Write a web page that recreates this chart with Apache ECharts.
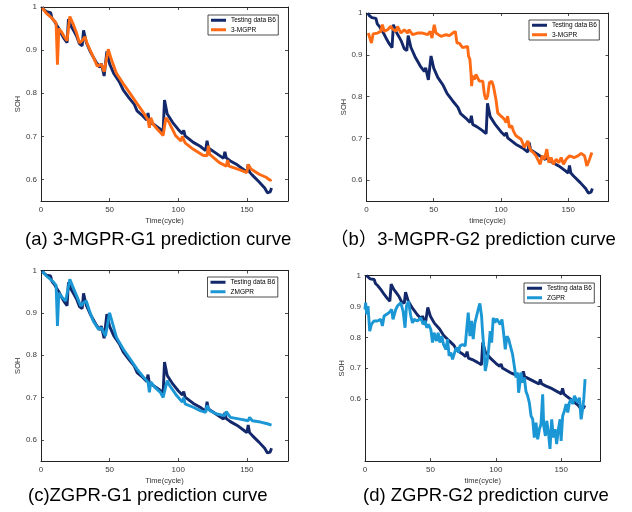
<!DOCTYPE html>
<html>
<head>
<meta charset="utf-8">
<script src="https://cdn.jsdelivr.net/npm/echarts@6/dist/echarts.min.js"></script>
<style>
  html, body { margin: 0; padding: 0; background: #fff; }
  #chart { width: 632px; height: 512px; }
</style>
</head>
<body>
<div id="chart"></div>
<script>
// SOH vs cycle, pairs of [cycle, soh]
const b6 = [
  [1,1.0],[2,0.994],[4,0.989],[5,0.987],[7,0.987],[8,0.974],[10,0.966],[12,0.955],[13,0.95],[15,0.937],
  [17,0.926],[19,0.917],[20,0.972],[22,0.955],[24,0.944],[26,0.932],[28,0.915],[30,0.91],[31,0.946],[33,0.918],
  [36,0.896],[40,0.873],[43,0.86],[44,0.869],[46,0.84],[47,0.838],[48,0.897],[50,0.868],[53,0.846],[57,0.827],
  [60,0.807],[64,0.79],[68,0.774],[70,0.759],[74,0.748],[77,0.738],[78,0.754],[79,0.733],[82,0.728],[86,0.719],
  [89,0.711],[90,0.784],[92,0.752],[96,0.732],[100,0.716],[103,0.706],[104,0.714],[105,0.701],[111,0.686],[116,0.677],
  [120,0.667],[121,0.69],[122,0.673],[128,0.66],[133,0.649],[134,0.664],[135,0.65],[138,0.643],[143,0.634],[148,0.622],
  [150,0.617],[151,0.635],[152,0.617],[154,0.61],[159,0.594],[163,0.58],[165,0.569],[167,0.571],[168,0.58]
]

const mgprG1 = [
  [1,0.998],[4,0.985],[8,0.974],[11,0.963],[12,0.866],[13,0.95],[15,0.942],[17,0.931],[19,0.922],[21,0.978],
  [23,0.964],[26,0.939],[28,0.917],[30,0.922],[32,0.931],[34,0.912],[38,0.885],[41,0.863],[44,0.867],[46,0.85],
  [47,0.848],[49,0.902],[51,0.881],[55,0.846],[60,0.822],[65,0.799],[70,0.776],[74,0.758],[78,0.738],[79,0.72],
  [80,0.743],[82,0.727],[85,0.716],[89,0.702],[90,0.704],[91,0.743],[93,0.734],[98,0.702],[102,0.689],[103,0.7],
  [105,0.685],[111,0.67],[118,0.656],[121,0.655],[122,0.678],[123,0.658],[130,0.639],[135,0.631],[136,0.645],[137,0.631],
  [145,0.622],[150,0.616],[151,0.635],[153,0.624],[159,0.612],[164,0.605],[167,0.598],[168,0.6]
]

const mgprG2 = [
  [1.3,0.952],[2.5,0.955],[3.7,0.928],[4.9,0.95],[5.9,0.946],[8.2,0.952],[10.6,0.956],[11.8,0.972],[13.2,0.956],[15.7,0.96],
  [18.1,0.968],[19.3,0.962],[21.9,0.956],[23.1,0.968],[25.6,0.952],[28.1,0.96],[30.6,0.952],[31.7,0.96],[34.3,0.948],[38,0.952],
  [41.7,0.952],[45.5,0.948],[47.4,0.956],[48.7,0.94],[50.4,0.972],[51.7,0.952],[55.4,0.944],[59.2,0.948],[61.6,0.946],[64.1,0.952],
  [66.1,0.956],[67.3,0.928],[69,0.928],[71.5,0.917],[75.2,0.92],[75.9,0.897],[76.9,0.889],[77.7,0.857],[78.2,0.825],[78.9,0.849],
  [80.3,0.841],[81.4,0.853],[83.9,0.837],[86.5,0.837],[87.7,0.805],[88.9,0.793],[90.1,0.801],[91.4,0.833],[93.2,0.837],[94.4,0.825],
  [96.3,0.793],[97.6,0.761],[100.1,0.753],[102.5,0.746],[103.8,0.738],[105,0.753],[106.3,0.726],[108.1,0.73],[109.2,0.718],[111.2,0.706],
  [112.5,0.71],[115,0.698],[117.4,0.678],[118.7,0.686],[120,0.694],[121.2,0.678],[122.5,0.67],[124.1,0.666],[126.1,0.658],[127.4,0.662],
  [129.2,0.638],[130.6,0.658],[132.4,0.65],[134.1,0.674],[135.6,0.642],[137.3,0.654],[139,0.638],[141.1,0.65],[143.1,0.642],[144.8,0.654],
  [146.5,0.638],[148.5,0.65],[151,0.658],[154.7,0.654],[157.2,0.658],[159.7,0.664],[162.2,0.658],[163.9,0.634],[165.9,0.65],[167.6,0.666]
]

const zmgpr = [
  [1,0.998],[4,0.987],[9,0.973],[11,0.965],[12,0.869],[13,0.947],[15,0.938],[18,0.928],[19,0.924],[21,0.979],
  [23,0.963],[26,0.94],[29,0.916],[31,0.924],[33,0.928],[35,0.908],[38,0.881],[42,0.861],[44,0.865],[47,0.845],
  [50,0.9],[52,0.877],[55,0.842],[60,0.814],[65,0.791],[70,0.767],[75,0.747],[78,0.736],[79,0.712],[80,0.737],
  [83,0.724],[87,0.712],[89,0.7],[90,0.703],[92,0.74],[93,0.732],[99,0.704],[103,0.689],[104,0.7],[105,0.685],
  [111,0.677],[116,0.669],[120,0.665],[121,0.681],[123,0.669],[128,0.661],[134,0.657],[135,0.667],[138,0.653],[145,0.649],
  [151,0.645],[152,0.653],[154,0.645],[160,0.642],[165,0.638],[168,0.635]
]

const zgpr = [
  [0,0.89],[0.5,0.912],[1.3,0.874],[2.3,0.901],[3.6,0.82],[4.9,0.842],[6.9,0.853],[9.4,0.853],[12,0.858],[13.3,0.837],
  [14.6,0.869],[16.3,0.874],[18.4,0.88],[20.4,0.89],[21.4,0.858],[23.5,0.89],[24.8,0.901],[27.3,0.912],[29.1,0.885],[30.6,0.831],
  [31.7,0.901],[33.2,0.917],[35,0.869],[36.3,0.847],[37.5,0.858],[40.1,0.853],[42.6,0.863],[44.4,0.842],[46,0.853],[47.2,0.831],
  [48.5,0.842],[50.3,0.826],[51.6,0.783],[52.8,0.815],[54.6,0.788],[55.9,0.815],[57.2,0.783],[58.7,0.804],[60,0.777],[61.8,0.761],
  [63.1,0.794],[64.3,0.74],[65.6,0.751],[66.9,0.729],[68.9,0.756],[70,0.767],[71.5,0.751],[72.5,0.772],[74.5,0.777],[76.6,0.772],
  [77.6,0.82],[78.9,0.88],[80.2,0.804],[81.4,0.853],[82.7,0.794],[84,0.847],[85.3,0.869],[86.5,0.89],[87.8,0.91],[89.1,0.869],
  [89.9,0.815],[91.1,0.751],[91.9,0.691],[93.2,0.718],[94.5,0.761],[95.7,0.82],[96.8,0.783],[98,0.863],[99.3,0.847],[100.6,0.86],
  [102.1,0.858],[103.4,0.842],[104.7,0.858],[105.9,0.815],[107.2,0.761],[108.5,0.804],[109.8,0.794],[111.1,0.772],[112.8,0.745],[114.1,0.74],
  [115.4,0.67],[116.7,0.686],[117.4,0.621],[118.5,0.654],[119.2,0.686],[120.5,0.654],[121.8,0.67],[123,0.626],[124.3,0.611],[125.6,0.589],
  [126.9,0.546],[128.2,0.535],[129.4,0.476],[130.7,0.524],[132,0.47],[133.3,0.503],[134.5,0.519],[135.8,0.616],[136.6,0.513],[137.9,0.481],
  [138.9,0.53],[140.2,0.492],[141.4,0.439],[142.7,0.535],[144,0.476],[145.3,0.503],[146.5,0.455],[147.8,0.503],[149.1,0.535],[149.9,0.465],
  [151.1,0.546],[152.4,0.562],[153.7,0.584],[155,0.557],[156.2,0.589],[157.5,0.6],[158.8,0.584],[160.1,0.611],[161.3,0.605],[162.6,0.589],
  [163.9,0.605],[165.2,0.535],[166.5,0.573],[167.2,0.6],[168.2,0.665]
]

const xTicks = [0, 50, 100, 150]
const yTicks = [0.6, 0.7, 0.8, 0.9, 1]

const NAVY = '#13286a'
const ORANGE = '#ff6a14'
const LBLUE = '#1b97d5'
const FONT = '"Liberation Sans", Arial, "Noto Sans CJK SC", sans-serif'

// one entry per sub plot
const panels = [
  {grid: {left: 41, top: 7, width: 247, height: 194}, xName: 'Time(cycle)', ymin: 0.55,
   other: mgprG1, otherName: '3-MGPR', color: ORANGE, legend: {left: 208, top: 15}},
  {grid: {left: 366.5, top: 13, width: 242, height: 188}, xName: 'time(cycle)', ymin: 0.55,
   other: mgprG2, otherName: '3-MGPR', color: ORANGE, legend: {left: 529, top: 20}},
  {grid: {left: 41, top: 270.5, width: 247, height: 190.5}, xName: 'Time(cycle)', ymin: 0.55,
   other: zmgpr, otherName: 'ZMGPR', color: LBLUE, legend: {left: 207.5, top: 277}},
  {grid: {left: 365, top: 275.5, width: 235.5, height: 185.5}, xName: 'time(cycle)', ymin: 0.4,
   other: zgpr, otherName: 'ZGPR', color: LBLUE, legend: {left: 524, top: 283}}
]

const captions = [
  {text: '(a) 3-MGPR-G1 prediction curve', x: 25, y: 239.5},
  {text: '（b）3-MGPR-G2 prediction curve', x: 330, y: 239.5},
  {text: '(c)ZGPR-G1 prediction curve', x: 28, y: 495.5},
  {text: '(d) ZGPR-G2 prediction curve', x: 363, y: 495.5}
]

const tickStyle = {show: true, inside: true, length: 3, lineStyle: {color: '#222', width: 0.8}}
const lineStyleAxis = {show: true, onZero: false, lineStyle: {color: '#222', width: 1}}

const buildOption = () => {
  let grid = [], xAxis = [], yAxis = [], series = [], legend = [], graphic = []
  panels.forEach((p, i) => {
    grid.push(p.grid)
    // bottom + top x axes
    xAxis.push({
      type: 'value', gridIndex: i, min: 0, max: 180, position: 'bottom',
      name: p.xName, nameLocation: 'middle', nameGap: 16,
      nameTextStyle: {fontSize: 7.5, color: '#333', fontFamily: FONT},
      axisLine: lineStyleAxis,
      axisTick: Object.assign({customValues: xTicks}, tickStyle),
      axisLabel: {customValues: xTicks, fontSize: 8, color: '#3a3a3a', fontFamily: FONT, margin: 5},
      splitLine: {show: false}
    })
    xAxis.push({
      type: 'value', gridIndex: i, min: 0, max: 180, position: 'top',
      axisLine: lineStyleAxis,
      axisTick: Object.assign({customValues: xTicks}, tickStyle),
      axisLabel: {show: false}, splitLine: {show: false}
    })
    // left + right y axes
    yAxis.push({
      type: 'value', gridIndex: i, min: p.ymin, max: 1, position: 'left',
      name: 'SOH', nameLocation: 'middle', nameGap: 17, nameRotate: 90,
      nameTextStyle: {fontSize: 7.5, color: '#333', fontFamily: FONT},
      axisLine: lineStyleAxis,
      axisTick: Object.assign({customValues: yTicks}, tickStyle),
      axisLabel: {customValues: yTicks, fontSize: 8, color: '#3a3a3a', fontFamily: FONT, margin: 4},
      splitLine: {show: false}
    })
    yAxis.push({
      type: 'value', gridIndex: i, min: p.ymin, max: 1, position: 'right',
      axisLine: lineStyleAxis,
      axisTick: Object.assign({customValues: yTicks}, tickStyle),
      axisLabel: {show: false}, splitLine: {show: false}
    })
    series.push({
      type: 'line', name: 'Testing data B6', xAxisIndex: i * 2, yAxisIndex: i * 2,
      data: b6, showSymbol: false, symbol: 'none', color: NAVY,
      lineStyle: {color: NAVY, width: 2.9}, z: 2
    })
    series.push({
      type: 'line', name: p.otherName, xAxisIndex: i * 2, yAxisIndex: i * 2,
      data: p.other, showSymbol: false, symbol: 'none', color: p.color,
      lineStyle: {color: p.color, width: 2.9}, z: 3
    })
    legend.push({
      orient: 'vertical', left: p.legend.left, top: p.legend.top,
      data: ['Testing data B6', p.otherName], selectedMode: false,
      icon: 'rect', itemWidth: 15, itemHeight: 3, itemGap: 3,
      padding: [2, 2.5, 2, 3], borderColor: '#222', borderWidth: 0.8, backgroundColor: '#fff',
      textStyle: {fontSize: 6.5, color: '#000', fontFamily: FONT}
    })
  })
  captions.forEach(c => {
    graphic.push({
      type: 'text', x: c.x, y: c.y,
      style: {text: c.text, fill: '#000', font: '18.5px ' + FONT, verticalAlign: 'middle', align: 'left'}
    })
  })
  return {animation: false, backgroundColor: '#fff', grid, xAxis, yAxis, series, legend, graphic}
}

const chart = echarts.init(document.getElementById('chart'), null, {renderer: 'canvas'})
chart.setOption(buildOption())
</script>
</body>
</html>
